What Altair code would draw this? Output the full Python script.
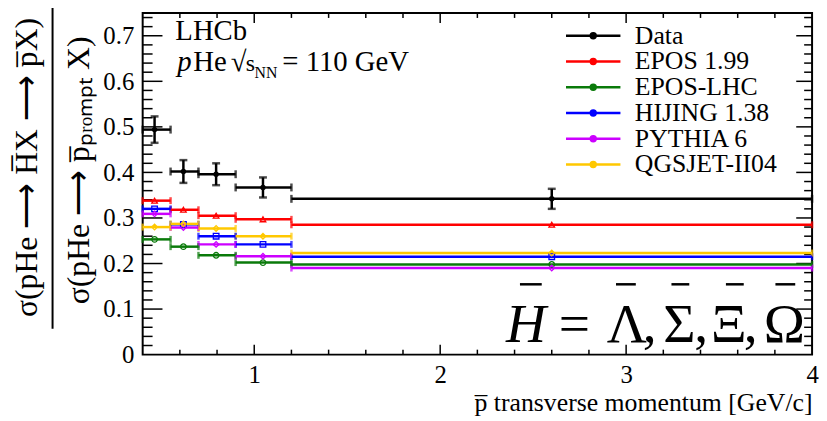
import altair as alt
import pandas as pd

FONT = "Liberation Serif"

series_names = ["Data", "EPOS 1.99", "EPOS-LHC", "HIJING 1.38", "PYTHIA 6", "QGSJET-II04"]
series_colors = ["#000000", "#ff0000", "#0a7a0a", "#0000ff", "#cc00ff", "#ffc800"]
model_names = series_names[1:]
model_shapes = ["triangle-up", "circle", "square", "diamond", "diamond"]

# bins of antiproton pT [GeV/c]
bin_lo = [0.4, 0.55, 0.7, 0.9, 1.2]
bin_hi = [0.55, 0.7, 0.9, 1.2, 4.0]
bin_mean = [0.464, 0.619, 0.795, 1.047, 2.60]

data_val = [0.494, 0.402, 0.396, 0.367, 0.342]
data_err = [0.029, 0.025, 0.024, 0.022, 0.022]

epos199 = [0.338, 0.318, 0.305, 0.297, 0.285]
eposlhc = [0.253, 0.237, 0.218, 0.202, 0.198]
hijing = [0.320, 0.286, 0.260, 0.242, 0.215]
pythia = [0.309, 0.279, 0.242, 0.216, 0.190]
qgsjet = [0.280, 0.287, 0.277, 0.260, 0.223]
model_vals = [epos199, eposlhc, hijing, pythia, qgsjet]

x_label_values = [1, 2, 3, 4]
y_label_values = [0, 0.1, 0.2, 0.3, 0.4, 0.5, 0.6, 0.7]
x_major_ticks = [1, 2, 3]
x_minor_ticks = [0.6, 0.8, 1.2, 1.4, 1.6, 1.8, 2.2, 2.4, 2.6, 2.8, 3.2, 3.4, 3.6, 3.8]
y_major_ticks = [0.1, 0.2, 0.3, 0.4, 0.5, 0.6, 0.7]
y_minor_ticks = [round(0.02 * i, 2) for i in range(1, 38) if i % 5 != 0]

# big annotation "H = Lambda, Sigma, Xi, Omega" (each with a bar), pixel layout in plot coords
big_glyphs = ["H", "=", "\u039b", ",", "\u03a3", ",", "\u039e", ",", "\u03a9"]
big_glyph_x = [387, 436, 489, 512, 542, 564, 592, 614, 648]
big_glyph_style = ["italic", "normal", "normal", "normal", "normal", "normal", "normal", "normal", "normal"]
big_bar_x1 = [381, 478, 534, 589, 639]
big_bar_x2 = [403, 498, 552, 607, 659]

W, H = 676, 345

# ---------- tables ----------
rows = []
for name, vals in zip(model_names, model_vals):
    for lo, hi, xc, v in zip(bin_lo, bin_hi, bin_mean, vals):
        rows.append({"series": name, "lo": lo, "hi": hi, "xc": xc, "val": v})
df_models = pd.DataFrame(rows)

df_data = pd.DataFrame({
    "series": ["Data"] * len(data_val),
    "lo": bin_lo, "hi": bin_hi, "xc": bin_mean, "val": data_val,
    "elo": [v - e for v, e in zip(data_val, data_err)],
    "ehi": [v + e for v, e in zip(data_val, data_err)],
})

# ---------- scales / axes ----------
xs = alt.Scale(domain=[0.4, 4.0], nice=False, zero=False)
ys = alt.Scale(domain=[0, 0.75], nice=False, zero=False)

xaxis = alt.Axis(values=x_label_values, ticks=False, tickSize=0, domain=False, grid=False,
                 labelFont=FONT, labelFontSize=25, labelColor="black", labelPadding=8,
                 labelFlush=False, labelOverlap=False,
                 title="p\u0305 transverse momentum [GeV/c]", titleFont=FONT, titleFontSize=26,
                 titleFontWeight="normal", titleColor="black", titleAnchor="end", titlePadding=2)
yaxis = alt.Axis(values=y_label_values, ticks=False, tickSize=0, domain=False, grid=False,
                 labelFont=FONT, labelFontSize=25, labelColor="black", labelPadding=9,
                 labelExpr="datum.value == 0 ? '0' : format(datum.value, '.1f')",
                 labelOverlap=False, title="")


def X(f):
    return alt.X(f, type="quantitative", scale=xs, axis=xaxis)


def Y(f):
    return alt.Y(f, type="quantitative", scale=ys, axis=yaxis)


legend_path = "M-4.4,0H4.4M-0.4,0A0.4,0.4,0,1,0,0.4,0A0.4,0.4,0,1,0,-0.4,0Z"
C = alt.Color("series:N",
              scale=alt.Scale(domain=series_names, range=series_colors),
              legend=alt.Legend(orient="none", legendX=442, legendY=10, title=None,
                                symbolType=legend_path, symbolSize=156, symbolStrokeWidth=2.5,
                                symbolOpacity=1,
                                labelFont=FONT, labelFontSize=26, labelColor="black",
                                labelOffset=29, rowPadding=-2, padding=0, labelLimit=400))

# ---------- layers ----------
model_bars = alt.Chart(df_models).mark_errorbar(ticks=True, size=7, thickness=2.5).encode(
    x=X("lo"), x2="hi", y=Y("val"), color=C)
model_pts = alt.Chart(df_models).mark_point(filled=False, size=32, strokeWidth=1.3, opacity=1).encode(
    x=X("xc"), y=Y("val"), color=C,
    shape=alt.Shape("series:N", scale=alt.Scale(domain=model_names, range=model_shapes), legend=None))

data_xbar = alt.Chart(df_data).mark_errorbar(ticks=True, size=8, thickness=2.5).encode(
    x=X("lo"), x2="hi", y=Y("val"), color=C)
data_ybar = alt.Chart(df_data).mark_errorbar(ticks=True, size=8, thickness=2.5).encode(
    x=X("xc"), y=Y("elo"), y2="ehi", color=C)
data_pts = alt.Chart(df_data).mark_circle(size=30, opacity=1).encode(
    x=X("xc"), y=Y("val"), color=C)

tick_style = dict(color="black", strokeWidth=1.5)
t_bot_maj = alt.Chart(pd.DataFrame({"v": x_major_ticks})).mark_rule(**tick_style).encode(
    x=X("v"), y=alt.value(H), y2=alt.value(H - 10))
t_bot_min = alt.Chart(pd.DataFrame({"v": x_minor_ticks})).mark_rule(**tick_style).encode(
    x=X("v"), y=alt.value(H), y2=alt.value(H - 5))
t_top_maj = alt.Chart(pd.DataFrame({"v": x_major_ticks})).mark_rule(**tick_style).encode(
    x=X("v"), y=alt.value(0), y2=alt.value(10))
t_top_min = alt.Chart(pd.DataFrame({"v": x_minor_ticks})).mark_rule(**tick_style).encode(
    x=X("v"), y=alt.value(0), y2=alt.value(5))
t_left_maj = alt.Chart(pd.DataFrame({"v": y_major_ticks})).mark_rule(**tick_style).encode(
    y=Y("v"), x=alt.value(0), x2=alt.value(20))
t_left_min = alt.Chart(pd.DataFrame({"v": y_minor_ticks})).mark_rule(**tick_style).encode(
    y=Y("v"), x=alt.value(0), x2=alt.value(10))
t_right_maj = alt.Chart(pd.DataFrame({"v": y_major_ticks})).mark_rule(**tick_style).encode(
    y=Y("v"), x=alt.value(W - 16), x2=alt.value(W))
t_right_min = alt.Chart(pd.DataFrame({"v": y_minor_ticks})).mark_rule(**tick_style).encode(
    y=Y("v"), x=alt.value(W - 8), x2=alt.value(W))


def label(txt, x, y, size, align="left", baseline="alphabetic", angle=0, style="normal", font=FONT,
          color="black"):
    return alt.Chart(pd.DataFrame({"t": [txt]})).mark_text(
        font=font, fontSize=size, align=align, baseline=baseline, angle=angle,
        fontStyle=style, color=color).encode(
        text="t:N", x=alt.value(x), y=alt.value(y))


def bar(x1, x2, y):
    return alt.Chart(pd.DataFrame({"t": [0]})).mark_rule(color="black", strokeWidth=2.5).encode(
        x=alt.value(x1), x2=alt.value(x2), y=alt.value(y))


numer = label("\u03c3(pHe \u27f6 H\u0305X \u27f6 p\u0305X)", -117, 156, 32,
              align="center", baseline="middle", angle=270)
denom = label("\u03c3(pHe \u27f6 p\u0305\u209a\u1d63\u2092\u2098\u209a\u209c X)", -64, 159, 32,
              align="center", baseline="middle", angle=270)
frac = alt.Chart(pd.DataFrame({"t": [0]})).mark_rule(color="black", strokeWidth=2).encode(
    x=alt.value(-91), y=alt.value(-6), y2=alt.value(319))

lhcb = label("LHCb", 33, 27, 29)
p_it = label("p", 35, 59, 29, style="italic")
he = label("He", 51, 59, 29)
sq = label("\u221a", 89, 59, 29)
s_ = label("s", 104, 59, 24)
nn = label("NN", 113, 66, 16)
energy = label("= 110 GeV", 141, 59, 29)

big_layers = [label(g, gx, 332, 56, align="center", style=st)
              for g, gx, st in zip(big_glyphs, big_glyph_x, big_glyph_style)]
bar_layers = [bar(b1, b2, 274) for b1, b2 in zip(big_bar_x1, big_bar_x2)]

chart = alt.layer(
    t_bot_maj, t_bot_min, t_top_maj, t_top_min, t_left_maj, t_left_min, t_right_maj, t_right_min,
    model_bars, model_pts, data_xbar, data_ybar, data_pts,
    numer, denom, frac, lhcb, p_it, he, sq, s_, nn, energy, *big_layers, *bar_layers,
).properties(
    width=W, height=H,
    padding={"left": 136, "top": 3, "right": 7, "bottom": 65},
    autosize=alt.AutoSizeParams(type="none"),
).configure(font=FONT).configure_view(stroke="black", strokeWidth=2)

chart.save("out.html", embed_options={"renderer": "svg", "actions": False})
